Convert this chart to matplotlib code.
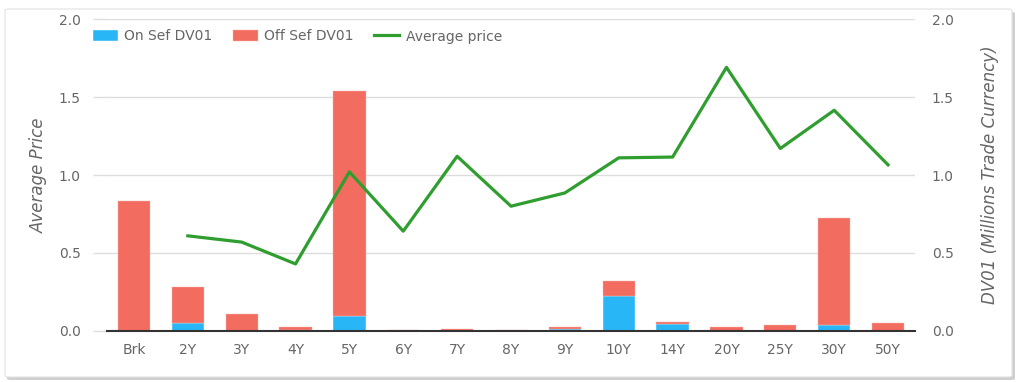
import numpy as np
import matplotlib
matplotlib.use("Agg")
import matplotlib.pyplot as plt
from matplotlib.patches import FancyBboxPatch

# data
tenors = ['Brk', '2Y', '3Y', '4Y', '5Y', '6Y', '7Y', '8Y', '9Y',
          '10Y', '14Y', '20Y', '25Y', '30Y', '50Y']
on_sef = [0.0, 0.05, 0.0, 0.005, 0.095, 0.0, 0.0, 0.0, 0.015,
          0.225, 0.048, 0.0, 0.0, 0.04, 0.0]
off_sef = [0.833, 0.23, 0.11, 0.02, 1.445, 0.004, 0.013, 0.009, 0.008,
           0.095, 0.012, 0.027, 0.037, 0.685, 0.05]
avg_price = [np.nan, 0.61, 0.57, 0.43, 1.02, 0.64, 1.12, 0.80, 0.885,
             1.11, 1.115, 1.69, 1.17, 1.415, 1.065]
yticks = [0.0, 0.5, 1.0, 1.5, 2.0]

blue = '#29b6f6'
red = '#f26c60'
green = '#2f9e2f'
grey_txt = '#666666'
grid_c = '#dddddd'

fig = plt.figure(figsize=(10.24, 3.82), dpi=100)

# card background with a soft shadow
shadow = FancyBboxPatch((7 / 1024, 2 / 382), 1008 / 1024, 368 / 382,
                        boxstyle="round,pad=0,rounding_size=0.004",
                        transform=fig.transFigure, facecolor='#cfcfcf',
                        edgecolor='none', zorder=-3)
card = FancyBboxPatch((5 / 1024, 5 / 382), 1007 / 1024, 368 / 382,
                      boxstyle="round,pad=0,rounding_size=0.004",
                      transform=fig.transFigure, facecolor='white',
                      edgecolor='#e2e2e2', linewidth=0.8, zorder=-2)
fig.patches.extend([shadow, card])

ax = fig.add_axes([107 / 1024, 1 - 331 / 382, 808 / 1024, 312 / 382])
ax2 = ax.twinx()

x = np.arange(len(tenors))
ax2.bar(x, on_sef, width=0.6, color=blue, edgecolor='white',
        linewidth=0.3, label='On Sef DV01')
ax2.bar(x, off_sef, width=0.6, bottom=on_sef, color=red,
        edgecolor='#f9b5ae', linewidth=0.3, label='Off Sef DV01')
ax.plot(x, avg_price, color=green, linewidth=2.3, label='Average price')

ax.set_zorder(ax2.get_zorder() + 1)
ax.patch.set_visible(False)
ax2.set_zorder(0)

for a in (ax, ax2):
    a.set_xlim(-0.5, len(tenors) - 0.5)
    a.set_ylim(0, 2.0)
    a.set_yticks(yticks)
    a.set_yticklabels(['%.1f' % t for t in yticks])
    for s in a.spines.values():
        s.set_visible(False)

ax.set_xticks(x)
ax.set_xticklabels(tenors)
ax.tick_params(axis='x', length=0, pad=9, labelsize=10, labelcolor=grey_txt)
ax.tick_params(axis='y', length=10, color=grid_c, width=1, pad=9,
               labelsize=10, labelcolor=grey_txt)
ax2.tick_params(axis='y', length=0, pad=12, labelsize=10, labelcolor=grey_txt)

# horizontal grid drawn on the bar axis so it sits behind the bars
ax2.yaxis.grid(True, color=grid_c, linewidth=1)
ax2.set_axisbelow(True)
ax.spines['bottom'].set_visible(True)
ax.spines['bottom'].set_color('#333333')
ax.spines['bottom'].set_linewidth(1.5)

ax.set_ylabel('Average Price', fontsize=12, color=grey_txt, style='italic',
              labelpad=8)
ax2.set_ylabel('DV01 (Millions Trade Currency)', fontsize=12, color=grey_txt,
               style='italic', labelpad=20)

h1, l1 = ax2.get_legend_handles_labels()
h2, l2 = ax.get_legend_handles_labels()
fig.legend(h1 + h2, l1 + l2, loc='upper left',
           bbox_to_anchor=(80 / 1024, 1 - 17 / 382), ncol=3, frameon=False,
           fontsize=10, labelcolor=grey_txt, handlelength=1.8,
           handleheight=0.9, handletextpad=0.45, columnspacing=1.5)

fig.savefig('out.png', dpi=100)
